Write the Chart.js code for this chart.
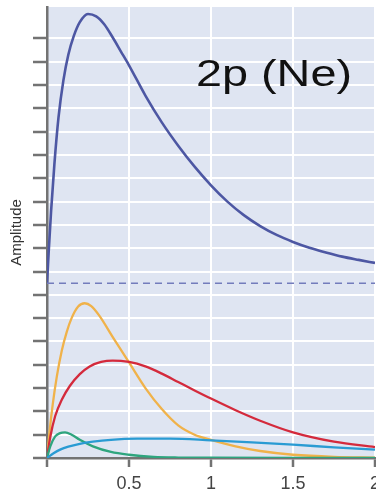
<!DOCTYPE html>
<html><head><meta charset="utf-8">
<style>
html,body{margin:0;padding:0;background:#fff;overflow:hidden}
#wrap{width:376px;height:494px;overflow:hidden;position:relative}
canvas{display:block}
</style></head>
<body>
<div id="wrap"><canvas id="c" width="400" height="494" style="width:400px;height:494px"></canvas></div>
<script src="https://cdn.jsdelivr.net/npm/chart.js@4/dist/chart.umd.min.js"></script>
<script>
// ---- data ----
const xTicks = [0.5, 1, 1.5, 2];
const titleText = '2p (Ne)';
const yTitle = 'Amplitude';
const baseline = 7.5;

const xBlue = [0, 0.01, 0.025, 0.045, 0.07, 0.1, 0.13, 0.163, 0.2, 0.25, 0.3, 0.35, 0.4, 0.45, 0.5, 0.6, 0.7, 0.8, 0.9, 1.0, 1.1, 1.2, 1.3, 1.4, 1.5, 1.6, 1.7, 1.8, 1.9, 2.0];
const yBlue = [7.5, 8.8, 10.6, 12.6, 14.6, 16.2, 17.3, 18.1, 18.7, 19.05, 18.95, 18.6, 18.05, 17.45, 16.85, 15.55, 14.4, 13.4, 12.5, 11.7, 11.0, 10.42, 9.95, 9.57, 9.27, 9.02, 8.82, 8.64, 8.5, 8.37];

const xOrange = [0, 0.015, 0.035, 0.06, 0.09, 0.12, 0.15, 0.19, 0.23, 0.27, 0.32, 0.4, 0.5, 0.6, 0.7, 0.8, 0.9, 1.0, 1.15, 1.3, 1.5, 1.75, 2.0];
const yOrange = [0, 1.1, 2.3, 3.5, 4.6, 5.4, 6.0, 6.5, 6.64, 6.52, 6.1, 5.2, 4.1, 3.0, 2.1, 1.4, 1.0, 0.78, 0.5, 0.3, 0.14, 0.05, 0.02];

const xRed = [0, 0.02, 0.05, 0.09, 0.14, 0.2, 0.26, 0.33, 0.4, 0.5, 0.6, 0.7, 0.8, 0.9, 1.0, 1.15, 1.3, 1.5, 1.75, 2.0];
const yRed = [0, 0.9, 1.8, 2.5, 3.1, 3.6, 3.93, 4.12, 4.18, 4.12, 3.93, 3.62, 3.26, 2.9, 2.55, 2.05, 1.6, 1.1, 0.7, 0.47];

const xGreen = [0, 0.02, 0.05, 0.08, 0.11, 0.15, 0.2, 0.28, 0.39, 0.5, 0.65, 0.8, 1.0, 1.5, 2.0];
const yGreen = [0, 0.5, 0.93, 1.07, 1.1, 1.0, 0.78, 0.5, 0.26, 0.14, 0.05, 0.02, 0.01, 0, 0];

const xCyan = [0, 0.04, 0.08, 0.13, 0.2, 0.28, 0.39, 0.55, 0.75, 1.0, 1.25, 1.5, 1.75, 2.0];
const yCyan = [0, 0.2, 0.36, 0.49, 0.61, 0.7, 0.78, 0.83, 0.835, 0.76, 0.67, 0.57, 0.46, 0.36];

const xDash = [0, 2];
const yDash = [baseline, baseline];

const pts = (xs, ys) => xs.map((x, i) => ({x, y: ys[i]}));

const AXIS = '#737373';
const FONT = '"Liberation Sans", Arial, Helvetica, sans-serif';

const bgPlugin = {
  id: 'bg',
  beforeDraw(chart) {
    const a = chart.chartArea, ctx = chart.ctx;
    ctx.save();
    ctx.fillStyle = '#dfe5f2';
    ctx.fillRect(a.left, a.top, a.right - a.left + 2, a.bottom - a.top);
    ctx.restore();
  }
};
const labelPlugin = {
  id: 'label',
  afterDraw(chart) {
    const ctx = chart.ctx;
    ctx.save();
    ctx.font = '37px ' + FONT;
    const w = ctx.measureText(titleText).width;
    ctx.translate(196, 86);
    ctx.scale(156 / w, 1);
    ctx.fillStyle = '#111';
    ctx.textBaseline = 'alphabetic';
    ctx.fillText(titleText, 0, 0);
    ctx.restore();
  }
};

const line = (data, color, w, extra) => Object.assign({
  data, borderColor: color, borderWidth: w, pointRadius: 0, fill: false,
  cubicInterpolationMode: 'monotone'
}, extra || {});

new Chart(document.getElementById('c'), {
  type: 'line',
  data: {
    datasets: [
      line(pts(xDash, yDash), '#737cbc', 1.5, {borderDash: [7, 5]}),
      line(pts(xCyan, yCyan), '#2a9bd3', 2.3),
      line(pts(xGreen, yGreen), '#2ea57e', 2.3),
      line(pts(xRed, yRed), '#d42a3c', 2.3),
      line(pts(xOrange, yOrange), '#f0b24a', 2.3),
      line(pts(xBlue, yBlue), '#4d57a3', 2.6)
    ]
  },
  options: {
    responsive: false,
    animation: false,
    devicePixelRatio: 1,
    layout: {padding: {left: 0, top: 7, right: 25, bottom: 0}},
    plugins: {legend: {display: false}, tooltip: {enabled: false}},
    scales: {
      x: {
        type: 'linear', min: 0, max: 2,
        afterBuildTicks: s => { s.ticks = [{value: 0}].concat(xTicks.map(v => ({value: v}))); },
        ticks: {
          stepSize: 0.5, autoSkip: false, maxRotation: 0, padding: 6,
          color: '#444', font: {size: 18, family: FONT},
          callback: v => (v === 0 ? '' : String(v))
        },
        grid: {color: '#ffffff', lineWidth: 2, tickColor: AXIS, tickWidth: 2.5, tickLength: 9},
        border: {color: AXIS, width: 2.5},
        afterFit: s => { s.height = 36; }
      },
      y: {
        min: 0, max: 19.35,
        afterBuildTicks: s => { s.ticks = s.ticks.filter(t => Number.isInteger(t.value)); },
        ticks: {stepSize: 1, display: false},
        grid: {color: '#ffffff', lineWidth: 2, tickColor: AXIS, tickWidth: 2.5, tickLength: 14},
        border: {color: AXIS, width: 2.5},
        title: {display: true, text: yTitle, color: '#333', font: {size: 15, family: FONT}, padding: {top: 8, bottom: 0}},
        afterFit: s => { s.width = 47; }
      }
    }
  },
  plugins: [bgPlugin, labelPlugin]
});
</script>
</body></html>
